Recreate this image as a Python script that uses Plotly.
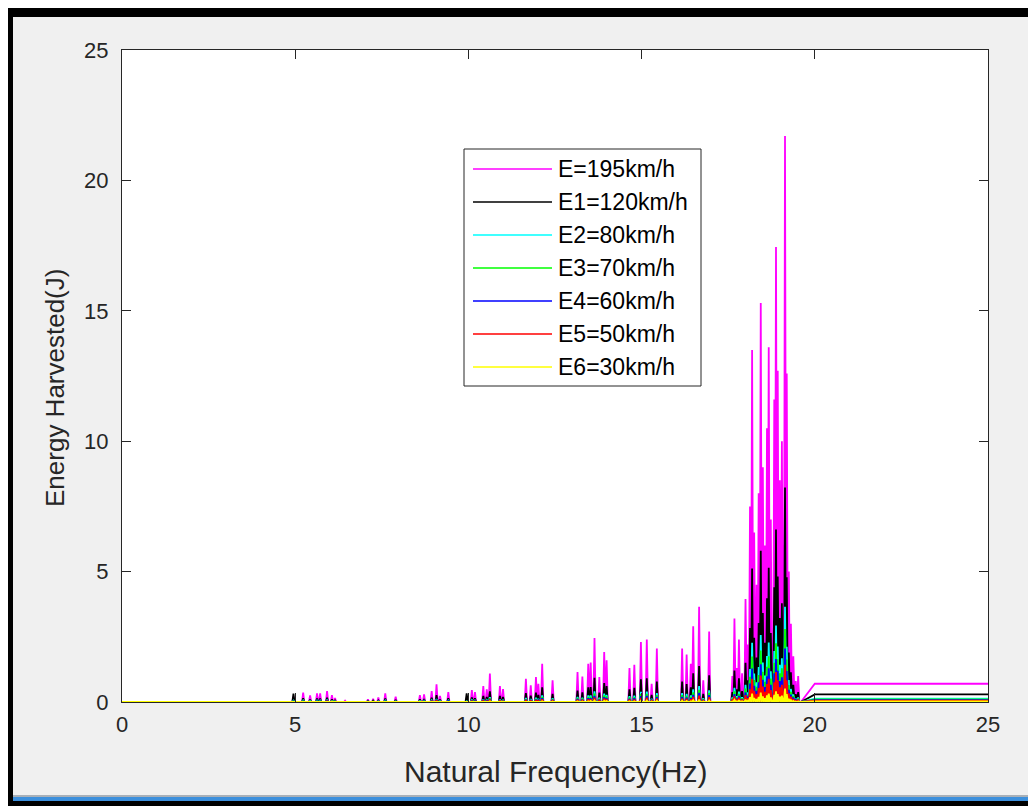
import plotly.graph_objects as go

# ---------------- data ----------------
series_names = ["E=195km/h", "E1=120km/h", "E2=80km/h", "E3=70km/h",
                "E4=60km/h", "E5=50km/h", "E6=30km/h"]
series_colors = ["#ff00ff", "#000000", "#00ffff", "#00ff00",
                 "#0000ff", "#ff0000", "#ffff00"]

# frequencies (Hz) of the resonance spikes
peak_hz = [4.95, 5.23, 5.43, 5.63, 5.72, 5.92, 6.06, 6.15, 6.44,
           7.10, 7.25, 7.40, 7.60, 7.90,
           8.60, 8.72, 8.94, 9.08, 9.18, 9.42,
           9.95, 10.10, 10.19, 10.43, 10.53, 10.62, 10.91, 11.00,
           11.66, 11.80, 11.95, 12.02, 12.13, 12.43,
           13.15, 13.29, 13.46, 13.53, 13.64, 13.78, 13.92, 13.99,
           14.65, 14.79, 14.98, 15.15, 15.29, 15.44,
           16.17, 16.30, 16.42, 16.49, 16.66, 16.78, 16.95,
           17.62, 17.68, 17.75, 17.81, 17.90, 18.00, 18.07, 18.13, 18.19, 18.25,
           18.32, 18.38, 18.44, 18.50, 18.56, 18.62, 18.67, 18.73, 18.83, 18.88,
           18.93, 18.99, 19.05, 19.10, 19.14, 19.19, 19.25, 19.31, 19.38, 19.45, 19.52]

# spike heights (J) for each speed
e195 = [0.20, 0.36, 0.25, 0.33, 0.33, 0.42, 0.26, 0.15, 0.05,
        0.10, 0.12, 0.17, 0.33, 0.20,
        0.26, 0.29, 0.42, 0.68, 0.23, 0.38,
        0.15, 0.46, 0.38, 0.61, 0.49, 1.09, 0.61, 0.50,
        0.89, 0.64, 0.96, 0.70, 1.47, 0.83,
        1.15, 0.98, 1.47, 1.51, 2.45, 0.96, 1.92, 1.60,
        1.30, 1.43, 2.30, 2.40, 0.70, 2.05,
        2.05, 1.82, 1.47, 2.90, 3.65, 0.83, 2.70,
        1.00, 3.20, 1.30, 2.40, 1.10, 3.95, 2.20, 7.50, 13.50, 6.50,
        4.50, 8.00, 15.30, 9.00, 6.00, 10.50, 13.60, 7.00, 11.60, 17.45,
        12.70, 8.50, 10.00, 6.00, 21.70, 12.60, 5.00, 3.00, 1.75, 0.80, 1.00]
e120 = [0.32, 0.14, 0.09, 0.13, 0.13, 0.16, 0.10, 0.06, 0.02,
        0.04, 0.05, 0.06, 0.13, 0.08,
        0.10, 0.11, 0.16, 0.26, 0.09, 0.14,
        0.33, 0.17, 0.14, 0.23, 0.19, 0.41, 0.23, 0.19,
        0.34, 0.24, 0.36, 0.27, 0.56, 0.31,
        0.44, 0.37, 0.56, 0.57, 0.93, 0.36, 0.73, 0.61,
        0.49, 0.54, 0.87, 0.91, 0.27, 0.78,
        0.78, 0.69, 0.56, 1.10, 1.38, 0.31, 1.02,
        0.38, 1.21, 0.49, 0.91, 0.42, 1.50, 0.83, 2.84, 5.12, 2.46,
        1.71, 3.03, 5.80, 3.41, 2.27, 3.98, 5.15, 2.65, 4.40, 6.61,
        4.81, 3.22, 3.79, 2.27, 8.22, 4.78, 1.90, 1.14, 0.66, 0.30, 0.38]
e80 = [0.05, 0.06, 0.04, 0.06, 0.06, 0.07, 0.04, 0.03, 0.01,
       0.02, 0.02, 0.03, 0.06, 0.03,
       0.04, 0.05, 0.07, 0.11, 0.04, 0.06,
       0.03, 0.08, 0.06, 0.10, 0.08, 0.18, 0.10, 0.08,
       0.15, 0.11, 0.16, 0.12, 0.25, 0.14,
       0.19, 0.16, 0.25, 0.25, 0.41, 0.16, 0.32, 0.27,
       0.22, 0.24, 0.39, 0.40, 0.12, 0.34,
       0.34, 0.31, 0.25, 0.49, 0.61, 0.14, 0.45,
       0.17, 0.54, 0.22, 0.40, 0.18, 0.66, 0.37, 1.26, 2.27, 1.09,
       0.76, 1.34, 2.57, 1.51, 1.01, 1.76, 2.28, 1.18, 1.95, 2.93,
       2.13, 1.43, 1.68, 1.01, 3.65, 2.12, 0.84, 0.50, 0.29, 0.13, 0.17]
e70 = [0.04, 0.05, 0.03, 0.04, 0.04, 0.05, 0.03, 0.02, 0.01,
       0.01, 0.02, 0.02, 0.04, 0.03,
       0.03, 0.04, 0.05, 0.09, 0.03, 0.05,
       0.02, 0.06, 0.05, 0.08, 0.06, 0.14, 0.08, 0.06,
       0.11, 0.08, 0.12, 0.09, 0.19, 0.11,
       0.15, 0.13, 0.19, 0.19, 0.32, 0.12, 0.25, 0.21,
       0.17, 0.18, 0.30, 0.31, 0.09, 0.26,
       0.26, 0.23, 0.19, 0.37, 0.47, 0.11, 0.35,
       0.13, 0.41, 0.17, 0.31, 0.14, 0.51, 0.28, 0.97, 1.74, 0.84,
       0.58, 1.03, 1.97, 1.16, 0.77, 1.35, 1.75, 0.90, 1.50, 2.25,
       1.64, 1.10, 1.29, 0.77, 2.80, 1.63, 0.65, 0.39, 0.23, 0.10, 0.13]
e60 = [0.03, 0.03, 0.02, 0.03, 0.03, 0.04, 0.02, 0.01, 0.00,
       0.01, 0.01, 0.02, 0.03, 0.02,
       0.02, 0.03, 0.04, 0.06, 0.02, 0.04,
       0.01, 0.04, 0.04, 0.06, 0.05, 0.10, 0.06, 0.05,
       0.08, 0.06, 0.09, 0.07, 0.14, 0.08,
       0.11, 0.09, 0.14, 0.14, 0.23, 0.09, 0.18, 0.15,
       0.12, 0.14, 0.22, 0.23, 0.07, 0.19,
       0.19, 0.17, 0.14, 0.27, 0.35, 0.08, 0.26,
       0.09, 0.30, 0.12, 0.23, 0.10, 0.37, 0.21, 0.71, 1.28, 0.62,
       0.43, 0.76, 1.45, 0.85, 0.57, 0.99, 1.29, 0.66, 1.10, 1.65,
       1.20, 0.80, 0.95, 0.57, 2.05, 1.19, 0.47, 0.28, 0.17, 0.08, 0.09]
e50 = [0.02, 0.02, 0.02, 0.02, 0.02, 0.03, 0.02, 0.01, 0.00,
       0.01, 0.01, 0.01, 0.02, 0.01,
       0.02, 0.02, 0.03, 0.04, 0.02, 0.02,
       0.01, 0.03, 0.02, 0.04, 0.03, 0.07, 0.04, 0.03,
       0.06, 0.04, 0.06, 0.05, 0.10, 0.05,
       0.08, 0.06, 0.10, 0.10, 0.16, 0.06, 0.13, 0.11,
       0.09, 0.09, 0.15, 0.16, 0.05, 0.13,
       0.13, 0.12, 0.10, 0.19, 0.24, 0.05, 0.18,
       0.07, 0.21, 0.09, 0.16, 0.07, 0.26, 0.14, 0.49, 0.89, 0.43,
       0.30, 0.53, 1.01, 0.59, 0.39, 0.69, 0.89, 0.46, 0.76, 1.15,
       0.83, 0.56, 0.66, 0.39, 1.43, 0.83, 0.33, 0.20, 0.11, 0.05, 0.07]
e30 = [0.01, 0.01, 0.01, 0.01, 0.01, 0.01, 0.01, 0.00, 0.00,
       0.00, 0.00, 0.00, 0.01, 0.00,
       0.01, 0.01, 0.01, 0.02, 0.01, 0.01,
       0.00, 0.01, 0.01, 0.01, 0.01, 0.03, 0.01, 0.01,
       0.02, 0.02, 0.02, 0.02, 0.03, 0.02,
       0.03, 0.02, 0.03, 0.04, 0.06, 0.02, 0.05, 0.04,
       0.03, 0.03, 0.05, 0.06, 0.02, 0.05,
       0.05, 0.04, 0.03, 0.07, 0.09, 0.02, 0.06,
       0.02, 0.08, 0.03, 0.06, 0.03, 0.09, 0.05, 0.18, 0.32, 0.15,
       0.11, 0.19, 0.36, 0.21, 0.14, 0.25, 0.32, 0.17, 0.27, 0.41,
       0.30, 0.20, 0.24, 0.14, 0.51, 0.30, 0.12, 0.07, 0.04, 0.02, 0.02]

# plateau reached above ~20 Hz
tail_hz = [19.60, 20.00, 25.00]
tail_level = [0.70, 0.29, 0.13, 0.10, 0.07, 0.05, 0.02]

x_ticks = [0, 5, 10, 15, 20, 25]
y_ticks = [0, 5, 10, 15, 20, 25]
x_title = "Natural Frequency(Hz)"
y_title = "Energy Harvested(J)"

all_heights = [e195, e120, e80, e70, e60, e50, e30]

# ---------------- layout constants (pixels) ----------------
# the page body has an 8px margin, so the figure starts at page (8, 8);
# all positions below are given in page pixels and converted.
OFF = 8
W, H = 1036, 806          # figure size (extends slightly past the window)
L, R, T, B = 122, 988, 50, 702  # plot area in page pixels
FONT = "Liberation Sans, Arial, Helvetica, sans-serif"
TXT = "#262626"
HW = 0.033  # half width of a spike in Hz


def pxx(px):
    return (px - L) / (R - L)


def pxy(py):
    return (B - py) / (B - T)


fig = go.Figure()
for name, color, hts, lev in zip(series_names, series_colors, all_heights, tail_level):
    xs, ys = [0.0], [0.0]
    for f, h in zip(peak_hz, hts):
        xs += [f - HW, f, f + HW]
        ys += [0.0, h, 0.0]
    xs += [tail_hz[0], tail_hz[1], tail_hz[2]]
    ys += [0.0, lev, lev]
    fig.add_trace(go.Scatter(x=xs, y=ys, mode="lines", name=name,
                             line=dict(color=color, width=1.8),
                             showlegend=False, hoverinfo="skip"))

shapes = []
annotations = []


def prect(x0, y0, x1, y1, color):
    shapes.append(dict(type="rect", xref="paper", yref="paper",
                       x0=pxx(x0), x1=pxx(x1), y0=pxy(y1), y1=pxy(y0),
                       fillcolor=color, line_width=0, layer="above"))


# window frame (screenshot border)
prect(OFF, OFF, OFF + W, 17, "black")        # top band
prect(OFF, OFF, 13, OFF + H, "black")        # left band
prect(13, 795, OFF + W, 797, "#a8b0b8")      # thin gray line
prect(13, 797, OFF + W, 801, "#3c8fdc")      # blue line
prect(OFF, 801, OFF + W, OFF + H, "black")   # bottom band

# legend box
LX0, LX1, LY0, LY1 = 464, 701, 149, 386
shapes.append(dict(type="rect", xref="paper", yref="paper", x0=pxx(LX0), x1=pxx(LX1),
                   y0=pxy(LY1), y1=pxy(LY0), fillcolor="white",
                   line=dict(color="#262626", width=1), layer="above"))
row_y = [169, 202, 235, 268, 301, 334, 367]
for name, color, ry in zip(series_names, series_colors, row_y):
    shapes.append(dict(type="line", xref="paper", yref="paper", x0=pxx(473), x1=pxx(552),
                       y0=pxy(ry), y1=pxy(ry), line=dict(color=color, width=1.5),
                       layer="above"))
    annotations.append(dict(xref="paper", yref="paper", x=pxx(556), y=pxy(ry),
                            text=name, showarrow=False, xanchor="left", yanchor="middle",
                            font=dict(family=FONT, size=23, color="#000000")))

# axis titles
annotations.append(dict(xref="paper", yref="paper", x=pxx(555), y=pxy(771),
                        text=x_title, showarrow=False, xanchor="center", yanchor="middle",
                        font=dict(family=FONT, size=30, color=TXT)))
annotations.append(dict(xref="paper", yref="paper", x=pxx(55), y=pxy(388),
                        text=y_title, showarrow=False, xanchor="center", yanchor="middle",
                        textangle=-90, font=dict(family=FONT, size=26, color=TXT)))

axis_common = dict(showline=True, mirror="ticks", linecolor="#262626", linewidth=1,
                   ticks="inside", ticklen=9, tickcolor="#262626", tickwidth=1,
                   showgrid=False, zeroline=False,
                   tickfont=dict(family=FONT, size=22, color=TXT))

fig.update_layout(
    width=W, height=H, autosize=False,
    margin=dict(l=L - OFF, r=OFF + W - R, t=T - OFF, b=OFF + H - B, pad=0),
    paper_bgcolor="#f0f0f0", plot_bgcolor="white",
    showlegend=False,
    xaxis=dict(range=[0, 25], tickvals=x_ticks, ticklabelstandoff=3, **axis_common),
    yaxis=dict(range=[0, 25], tickvals=y_ticks, ticklabelstandoff=8, **axis_common),
    shapes=shapes, annotations=annotations,
)

fig.write_html("out.html")
